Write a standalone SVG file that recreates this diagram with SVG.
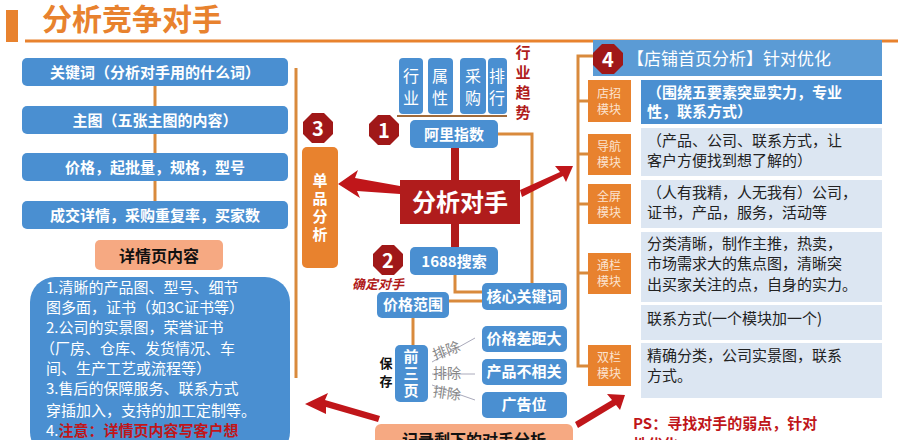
<svg xmlns="http://www.w3.org/2000/svg" width="898" height="440" viewBox="0 0 898 440">
<style>
text{font-family:"Noto Sans CJK SC","Liberation Sans",sans-serif}
.b{fill:#4a8fd1}
.wt{fill:#fff;font-weight:bold;font-size:15px;text-anchor:middle}
.ln{stroke:#d98a3c;stroke-width:3;fill:none}
.or{fill:#e8822e}
.ow{fill:#fbe3d0;font-size:12px;text-anchor:middle}
.lt{fill:#dce6f2}
.dt{fill:#222;font-size:15px}
.oct{fill:#a01818}
.on{fill:#fff;font-weight:bold;font-size:20px;text-anchor:middle}
.ar{fill:#c0161a}
</style>
<rect width="898" height="440" fill="#fff"/>
<g id="title">
<rect x="6" y="10" width="12" height="32" fill="#e8822e"/>
<text x="42" y="30" font-size="30" font-weight="bold" fill="#e8822e">分析竞争对手</text>
<line x1="25" y1="41" x2="898" y2="41" stroke="#e8822e" stroke-width="3"/>
</g>
<g id="connectors">
<line class="ln" x1="155" y1="86" x2="155" y2="201"/>
<line class="ln" x1="296" y1="68" x2="296" y2="378"/>
<line x1="397" y1="116" x2="507" y2="116" stroke="#a06a3a" stroke-width="2"/>
<line x1="455" y1="148" x2="455" y2="250" stroke="#b01c1c" stroke-width="8"/>
<polyline class="ln" points="498,134 532,134 532,292 567,292"/>
<polyline class="ln" points="455,275 455,292 482,292"/>
<line class="ln" x1="449" y1="301" x2="482" y2="301"/>
<line class="ln" x1="413" y1="318" x2="413" y2="345"/>
<polyline class="ln" points="593,56 578,56 578,366 588,366"/>
<line class="ln" x1="578" y1="101" x2="588" y2="101"/>
<line class="ln" x1="578" y1="154" x2="588" y2="154"/>
<line class="ln" x1="578" y1="204" x2="588" y2="204"/>
<line class="ln" x1="578" y1="273" x2="588" y2="273"/>
<g stroke="#aab" stroke-width="1" fill="none">
<line x1="432" y1="362" x2="475" y2="338"/><line x1="432" y1="374" x2="475" y2="374"/><line x1="432" y1="385" x2="475" y2="400"/>
</g>
<path class="ar" d="M400,186 L355,178 L358,170 L338,184 L360,198 L357,191 L400,194Z"/>
<path class="ar" d="M520,190 L560,172 L555,166 L573,166 L566,182 L563,176 L522,197Z"/>
<path class="ar" d="M380,416 L325,400 L328,393 L305,404 L326,414 L326,407 L378,422Z"/>
<path class="ar" d="M575,422 L612,400 L607,394 L625,395 L620,410 L616,405 L578,428Z"/>
<g fill="#888" font-size="14" font-family="Liberation Serif,Noto Sans CJK SC,serif">
<text x="432" y="356" transform="rotate(-20 445 350)">排除</text>
<text x="433" y="378">排除</text>
<text x="433" y="398" transform="rotate(8 445 392)">排除</text>
</g>
</g>
<g id="left">
<rect class="b" x="22" y="58" width="266" height="28" rx="5"/><text class="wt" x="155" y="78">关键词（分析对手用的什么词）</text>
<rect class="b" x="22" y="106" width="266" height="28" rx="5"/><text class="wt" x="155" y="126">主图（五张主图的内容）</text>
<rect class="b" x="22" y="153" width="266" height="28" rx="5"/><text class="wt" x="155" y="173">价格，起批量，规格，型号</text>
<rect class="b" x="22" y="201" width="266" height="28" rx="5"/><text class="wt" x="155" y="221">成交详情，采购重复率，买家数</text>
<rect x="95" y="240" width="128" height="30" rx="5" fill="#f6a982"/><text x="159" y="262" font-size="16" font-weight="bold" text-anchor="middle" fill="#111">详情页内容</text>
<rect class="b" x="30" y="277" width="260" height="180" rx="25"/>
<g fill="#fff" font-size="15" font-family="Liberation Serif,Noto Sans CJK SC,serif">
<text x="46" y="293">1.清晰的产品图、型号、细节</text>
<text x="46" y="313">图多面，证书（如3C证书等）</text>
<text x="46" y="333">2.公司的实景图，荣誉证书</text>
<text x="40" y="354">（厂房、仓库、发货情况、车</text>
<text x="46" y="374">间、生产工艺或流程等）</text>
<text x="46" y="394">3.售后的保障服务、联系方式</text>
<text x="46" y="416">穿插加入，支持的加工定制等。</text>
<text x="46" y="436">4.<tspan fill="#c0161a" font-weight="bold">注意：详情页内容写客户想</tspan></text>
</g>
</g>
<g id="n3">
<polygon class="oct" points="312,113 324,113 333,122 333,134 324,143 312,143 303,134 303,122"/><text class="on" x="318" y="136">3</text>
<rect class="or" x="302" y="147" width="36" height="121" rx="5"/>
<g class="wt"><text x="320" y="186">单</text><text x="320" y="204">品</text><text x="320" y="222">分</text><text x="320" y="240">析</text></g>
</g>
<g id="center">
<rect class="b" x="399" y="58" width="24" height="56" rx="4"/><rect class="b" x="428" y="58" width="25" height="56" rx="4"/><rect class="b" x="460" y="58" width="26" height="56" rx="4"/><rect class="b" x="488" y="58" width="19" height="56" rx="4"/>
<g fill="#fff" font-size="16" text-anchor="middle"><text x="411" y="82">行</text><text x="411" y="104">业</text><text x="440" y="82">属</text><text x="440" y="104">性</text><text x="473" y="82">采</text><text x="473" y="104">购</text><text x="497" y="82">排</text><text x="497" y="104">行</text></g>
<g fill="#b01c1c" font-size="15" font-weight="bold" text-anchor="middle"><text x="523" y="58">行</text><text x="523" y="78">业</text><text x="523" y="98">趋</text><text x="523" y="118">势</text></g>
<polygon class="oct" points="378,115 390,115 399,124 399,136 390,145 378,145 369,136 369,124"/><text class="on" x="384" y="138">1</text>
<rect class="b" x="410" y="120" width="88" height="28" rx="5"/><text class="wt" x="454" y="140">阿里指数</text>
<rect x="400" y="180" width="120" height="44" fill="#b01c1c"/><text x="460" y="211" fill="#fff" font-size="24" font-weight="bold" text-anchor="middle">分析对手</text>
<polygon class="oct" points="382,245 394,245 403,254 403,266 394,275 382,275 373,266 373,254"/><text class="on" x="388" y="268">2</text>
<rect class="b" x="410" y="247" width="88" height="28" rx="5"/><text class="wt" x="454" y="267">1688搜索</text>
<text x="352" y="289" fill="#b01c1c" font-size="13" font-weight="bold" font-style="italic">确定对手</text>
<rect class="b" x="377" y="292" width="72" height="26" rx="5"/><text class="wt" x="413" y="310" font-size="13">价格范围</text>
<rect class="b" x="482" y="283" width="85" height="27" rx="5"/><text class="wt" x="524" y="302" font-size="13">核心关键词</text>
<rect class="b" x="395" y="345" width="33" height="57" rx="5"/>
<g class="wt" font-size="13"><text x="411" y="362">前</text><text x="411" y="379">三</text><text x="411" y="396">页</text></g>
<g font-size="13" font-weight="bold" fill="#111" text-anchor="middle"><text x="386" y="368">保</text><text x="386" y="386">存</text></g>
<rect class="b" x="482" y="326" width="85" height="26" rx="5"/><text class="wt" x="524" y="344" font-size="13">价格差距大</text>
<rect class="b" x="482" y="359" width="85" height="26" rx="5"/><text class="wt" x="524" y="377" font-size="13">产品不相关</text>
<rect class="b" x="482" y="392" width="85" height="26" rx="5"/><text class="wt" x="524" y="410" font-size="13">广告位</text>
<rect x="375" y="424" width="198" height="30" rx="6" fill="#f6a982"/><text x="474" y="446" font-size="16" font-weight="bold" text-anchor="middle" fill="#111">记录剩下的对手分析</text>
<text x="633" y="429" fill="#c0161a" font-size="15" font-weight="bold">PS：寻找对手的弱点，针对</text>
<text x="633" y="450" fill="#c0161a" font-size="15" font-weight="bold">性优化</text>
</g>
<g id="right">
<rect x="593" y="40" width="289" height="36" fill="#5b9bd5"/>
<polygon class="oct" points="602,44 614,44 623,53 623,65 614,74 602,74 593,65 593,53"/><text class="on" x="608" y="67">4</text>
<text x="627" y="65" fill="#fff" font-size="17">【店铺首页分析】针对优化</text>
<rect class="or" x="588" y="80" width="43" height="42"/><text class="ow" x="609" y="98">店招</text><text class="ow" x="609" y="114">模块</text>
<rect class="or" x="588" y="134" width="43" height="41"/><text class="ow" x="609" y="151">导航</text><text class="ow" x="609" y="167">模块</text>
<rect class="or" x="588" y="184" width="43" height="40"/><text class="ow" x="609" y="201">全屏</text><text class="ow" x="609" y="217">模块</text>
<rect class="or" x="588" y="253" width="43" height="41"/><text class="ow" x="609" y="270">通栏</text><text class="ow" x="609" y="286">模块</text>
<rect class="or" x="588" y="345" width="43" height="41"/><text class="ow" x="609" y="362">双栏</text><text class="ow" x="609" y="378">模块</text>
<rect x="641" y="80" width="241" height="44" fill="#4a8fd1"/>
<text x="647" y="98" fill="#fff" font-size="15" font-weight="bold">（围绕五要素突显实力，专业</text><text x="647" y="117" fill="#fff" font-size="15" font-weight="bold">性，联系方式）</text>
<rect class="lt" x="641" y="128" width="241" height="48"/>
<text class="dt" x="647" y="146">（产品、公司、联系方式，让</text><text class="dt" x="647" y="166">客户方便找到想了解的）</text>
<rect class="lt" x="641" y="180" width="241" height="48"/>
<text class="dt" x="647" y="198">（人有我精，人无我有）公司，</text><text class="dt" x="647" y="218">证书，产品，服务，活动等</text>
<rect class="lt" x="641" y="232" width="241" height="70"/>
<text class="dt" x="647" y="249">分类清晰，制作主推，热卖，</text><text class="dt" x="647" y="269">市场需求大的焦点图，清晰突</text><text class="dt" x="647" y="290">出买家关注的点，自身的实力。</text>
<rect class="lt" x="641" y="305" width="241" height="35"/>
<text class="dt" x="647" y="324">联系方式(一个模块加一个)</text>
<rect class="lt" x="641" y="343" width="241" height="55"/>
<text class="dt" x="647" y="361">精确分类，公司实景图，联系</text><text class="dt" x="647" y="381">方式。</text>
</g>
</svg>
